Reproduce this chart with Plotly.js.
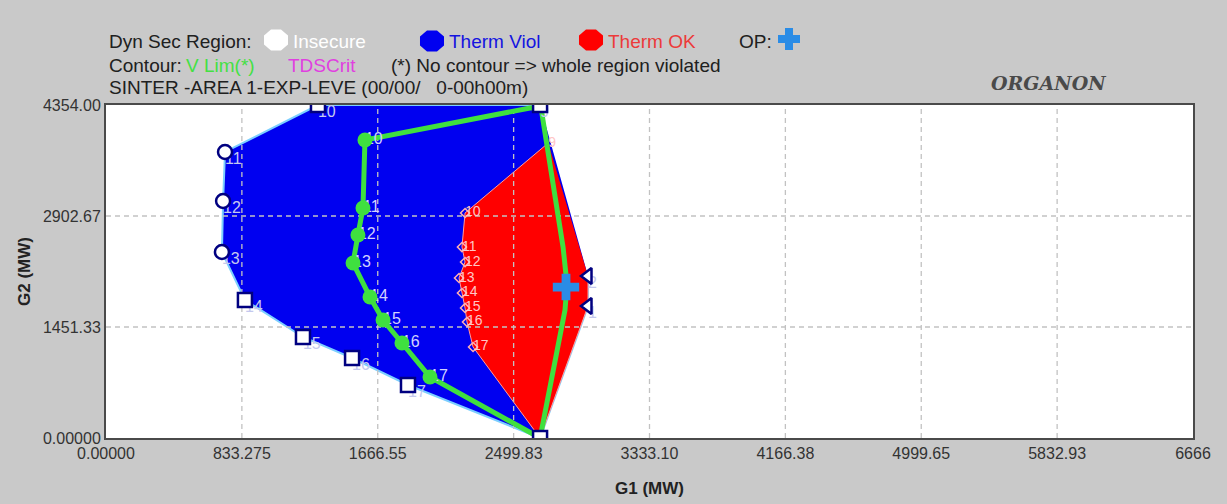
<!DOCTYPE html>
<html>
<head>
<meta charset="utf-8">
<script src="https://cdn.plot.ly/plotly-3.0.1.min.js"></script>
<style>html,body{margin:0;padding:0;background:#c9c9c9;}#chart{width:1227px;height:504px;}</style>
</head>
<body>
<div id="chart"></div>
<script>
// ---------- DATA ----------
const xTickVals = [0, 833.275, 1666.55, 2499.83, 3333.10, 4166.38, 4999.65, 5832.93, 6666.2];
const xTickText = ['0.00000', '833.275', '1666.55', '2499.83', '3333.10', '4166.38', '4999.65', '5832.93', '6666'];
const yTickVals = [0, 1451.33, 2902.67, 4354];
const yTickText = ['0.00000', '1451.33', '2902.67', '4354.00'];

// Dynamic security region boundary: Therm Viol (blue) / Insecure points
const insecX = [2662, 1300, 730, 718, 711, 852, 1208, 1509, 1852, 2662, 2956, 2956];
const insecY = [4354, 4354, 3740, 3099, 2432, 1804, 1321, 1046, 693, 0, 1726, 2118];
const insecLbl = ['9', '10', '11', '12', '13', '14', '15', '16', '17', '', '1', '2'];

// Therm OK (red) region
const okX = [2712, 2202, 2183, 2202, 2165, 2183, 2202, 2214, 2251, 2662, 2956, 2956];
const okY = [3857, 2942, 2497, 2301, 2092, 1896, 1700, 1517, 1190, 0, 1726, 2118];
const okLbl = ['9', '10', '11', '12', '13', '14', '15', '16', '17', '', '', ''];

// V Lim contour (green)
const vlimX = [2662, 1987, 1815, 1699, 1619, 1515, 1545, 1576, 1588, 2600, 2668, 2735, 2803, 2827, 2815, 2662];
const vlimY = [0, 798, 1242, 1543, 1844, 2288, 2654, 3007, 3896, 4315, 4315, 3373, 2497, 2013, 1674, 0];
const vlimLbl = ['', '17', '16', '15', '14', '13', '12', '11', '10', '', '', '', '', '', '', ''];

// Operating point
const opX = [2821];
const opY = [1974];

// ---------- STYLE ----------
const FONT = '"Liberation Sans", Arial, sans-serif';
const insecSymbol = ['square', 'square', 'circle', 'circle', 'circle', 'square', 'square', 'square', 'square', 'square', 'triangle-left', 'triangle-left'];
const vlimMarkerIdx = [1, 2, 3, 4, 5, 6, 7, 8];
const okMarkerIdx = [1, 2, 3, 4, 5, 6, 7, 8];

// gridline trace built from tick values
const gx = [], gy = [];
xTickVals.slice(1, -1).forEach(v => { gx.push(v, v, null); gy.push(0, 4354, null); });
yTickVals.slice(1, -1).forEach(v => { gx.push(0, 6666.2, null); gy.push(v, v, null); });

const traces = [
  { x: insecX, y: insecY, mode: 'lines', fill: 'toself', fillcolor: '#0000f0',
    line: { color: '#7ccfff', width: 2 }, hoverinfo: 'skip', showlegend: false },
  { x: okX, y: okY, mode: 'lines', fill: 'toself', fillcolor: '#ff0000',
    line: { color: '#ff9c9c', width: 1 }, hoverinfo: 'skip', showlegend: false },
  { x: gx, y: gy, mode: 'lines', line: { color: '#c2c2c2', width: 1.3, dash: '5px,4px' },
    hoverinfo: 'skip', showlegend: false },
  { x: okMarkerIdx.map(i => okX[i]), y: okMarkerIdx.map(i => okY[i]), mode: 'markers',
    marker: { symbol: 'diamond-open', size: 7, color: '#ffb0b0', line: { width: 1.5 } }, showlegend: false },
  { x: okX, y: okY, mode: 'text', text: okLbl, textposition: 'middle right',
    textfont: { family: FONT, size: 14, color: '#ffc6c6' }, showlegend: false },
  { x: vlimX, y: vlimY, mode: 'lines', line: { color: '#3fe03f', width: 5 }, showlegend: false },
  { x: vlimX, y: vlimY, mode: 'text', text: vlimLbl, textposition: 'middle right',
    textfont: { family: FONT, size: 16, color: '#d2d2ff' }, showlegend: false },
  { x: vlimMarkerIdx.map(i => vlimX[i]), y: vlimMarkerIdx.map(i => vlimY[i]), mode: 'markers',
    marker: { symbol: 'circle', size: 15, color: '#3fe03f' }, showlegend: false },
  { x: insecX, y: insecY, mode: 'text', text: insecLbl, textposition: 'bottom right',
    textfont: { family: FONT, size: 16, color: '#c4c8ee' }, showlegend: false },
  { x: insecX, y: insecY, mode: 'markers',
    marker: { symbol: insecSymbol, size: 14, color: '#ffffff', line: { color: '#000080', width: 2.5 } },
    showlegend: false },
  { x: opX, y: opY, mode: 'markers',
    marker: { symbol: 'cross', size: 22, color: '#2a8ce6', line: { width: 0 } }, showlegend: false }
];

// pixel -> paper helpers (layout only)
const PL = 106, PR = 1193, PT = 105, PB = 438;
const px = v => (v - PL) / (PR - PL);
const py = v => (PB - v) / (PB - PT);

function octPath(rx, ry) {
  let s = '';
  for (let k = 0; k < 8; k++) {
    const a = Math.PI / 8 + k * Math.PI / 4;
    s += (k === 0 ? 'M' : 'L') + (rx * Math.cos(a)).toFixed(2) + ',' + (ry * Math.sin(a)).toFixed(2);
  }
  return s + 'Z';
}
function crossPath(r, t) {
  return `M${-t},${-r}L${t},${-r}L${t},${-t}L${r},${-t}L${r},${t}L${t},${t}L${t},${r}L${-t},${r}L${-t},${t}L${-r},${t}L${-r},${-t}L${-t},${-t}Z`;
}
function pixShape(cx, cy, path, color) {
  return { type: 'path', xref: 'paper', yref: 'paper', xsizemode: 'pixel', ysizemode: 'pixel',
    xanchor: px(cx), yanchor: py(cy), path: path, fillcolor: color, line: { width: 0 }, layer: 'above' };
}

const shapes = [
  pixShape(276, 40, octPath(13, 11.5), '#ffffff'),
  pixShape(432, 41, octPath(13, 11.5), '#0000f0'),
  pixShape(591, 40, octPath(13, 11.5), '#ff0000'),
  pixShape(789, 39, crossPath(11, 4), '#2a8ce6')
];

const LEG = 19;
function ann(x, y, text, color, extra) {
  return Object.assign({ x: px(x), y: py(y), xref: 'paper', yref: 'paper', xanchor: 'left', yanchor: 'middle',
    text: text, showarrow: false, font: { family: FONT, size: LEG, color: color } }, extra || {});
}

const annotations = [
  ann(107, 42, 'Dyn Sec Region:', '#202020'),
  ann(291, 42, 'Insecure', '#ffffff'),
  ann(447, 42, 'Therm Viol', '#1414e0'),
  ann(606, 42, 'Therm OK', '#ec3a3a'),
  ann(737, 42, 'OP:', '#202020'),
  ann(107, 65, 'Contour:', '#202020'),
  ann(184, 65, 'V Lim(*)', '#44e044'),
  ann(286, 65, 'TDSCrit', '#e040e0'),
  ann(389, 65, '(*) No contour =&gt; whole region violated', '#202020'),
  ann(107, 88, 'SINTER -AREA 1-EXP-LEVE (00/00/&nbsp;&nbsp;&nbsp;0-00h00m)', '#202020'),
  ann(989, 83, '<b><i>ORGANON</i></b>', '#4a4a4a', { font: { family: '"DejaVu Serif", serif', size: 19, color: '#4a4a4a' } })
];

const layout = {
  width: 1227, height: 504,
  margin: { l: PL, r: 1227 - PR, t: PT, b: 504 - PB },
  paper_bgcolor: '#c9c9c9', plot_bgcolor: '#ffffff',
  showlegend: false,
  font: { family: FONT, size: 17, color: '#333333' },
  xaxis: {
    range: [0, 6666.2], tickmode: 'array', tickvals: xTickVals, ticktext: xTickText,
    showgrid: false, zeroline: false, showline: true, mirror: true, linecolor: '#4a4a4a', linewidth: 2,
    ticks: '', tickfont: { family: FONT, size: 16, color: '#333333' },
    title: { text: '<b>G1 (MW)</b>', font: { family: FONT, size: 17, color: '#222222' }, standoff: 21 }
  },
  yaxis: {
    range: [0, 4354], tickmode: 'array', tickvals: yTickVals, ticktext: yTickText,
    showgrid: false, zeroline: false, showline: true, mirror: true, linecolor: '#4a4a4a', linewidth: 2,
    ticks: '', tickfont: { family: FONT, size: 16, color: '#333333' },
    title: { text: '<b>G2 (MW)</b>', font: { family: FONT, size: 17, color: '#222222' }, standoff: 8 }
  },
  shapes: shapes,
  annotations: annotations
};

Plotly.newPlot('chart', traces, layout, { displayModeBar: false, staticPlot: true });
</script>
</body>
</html>
